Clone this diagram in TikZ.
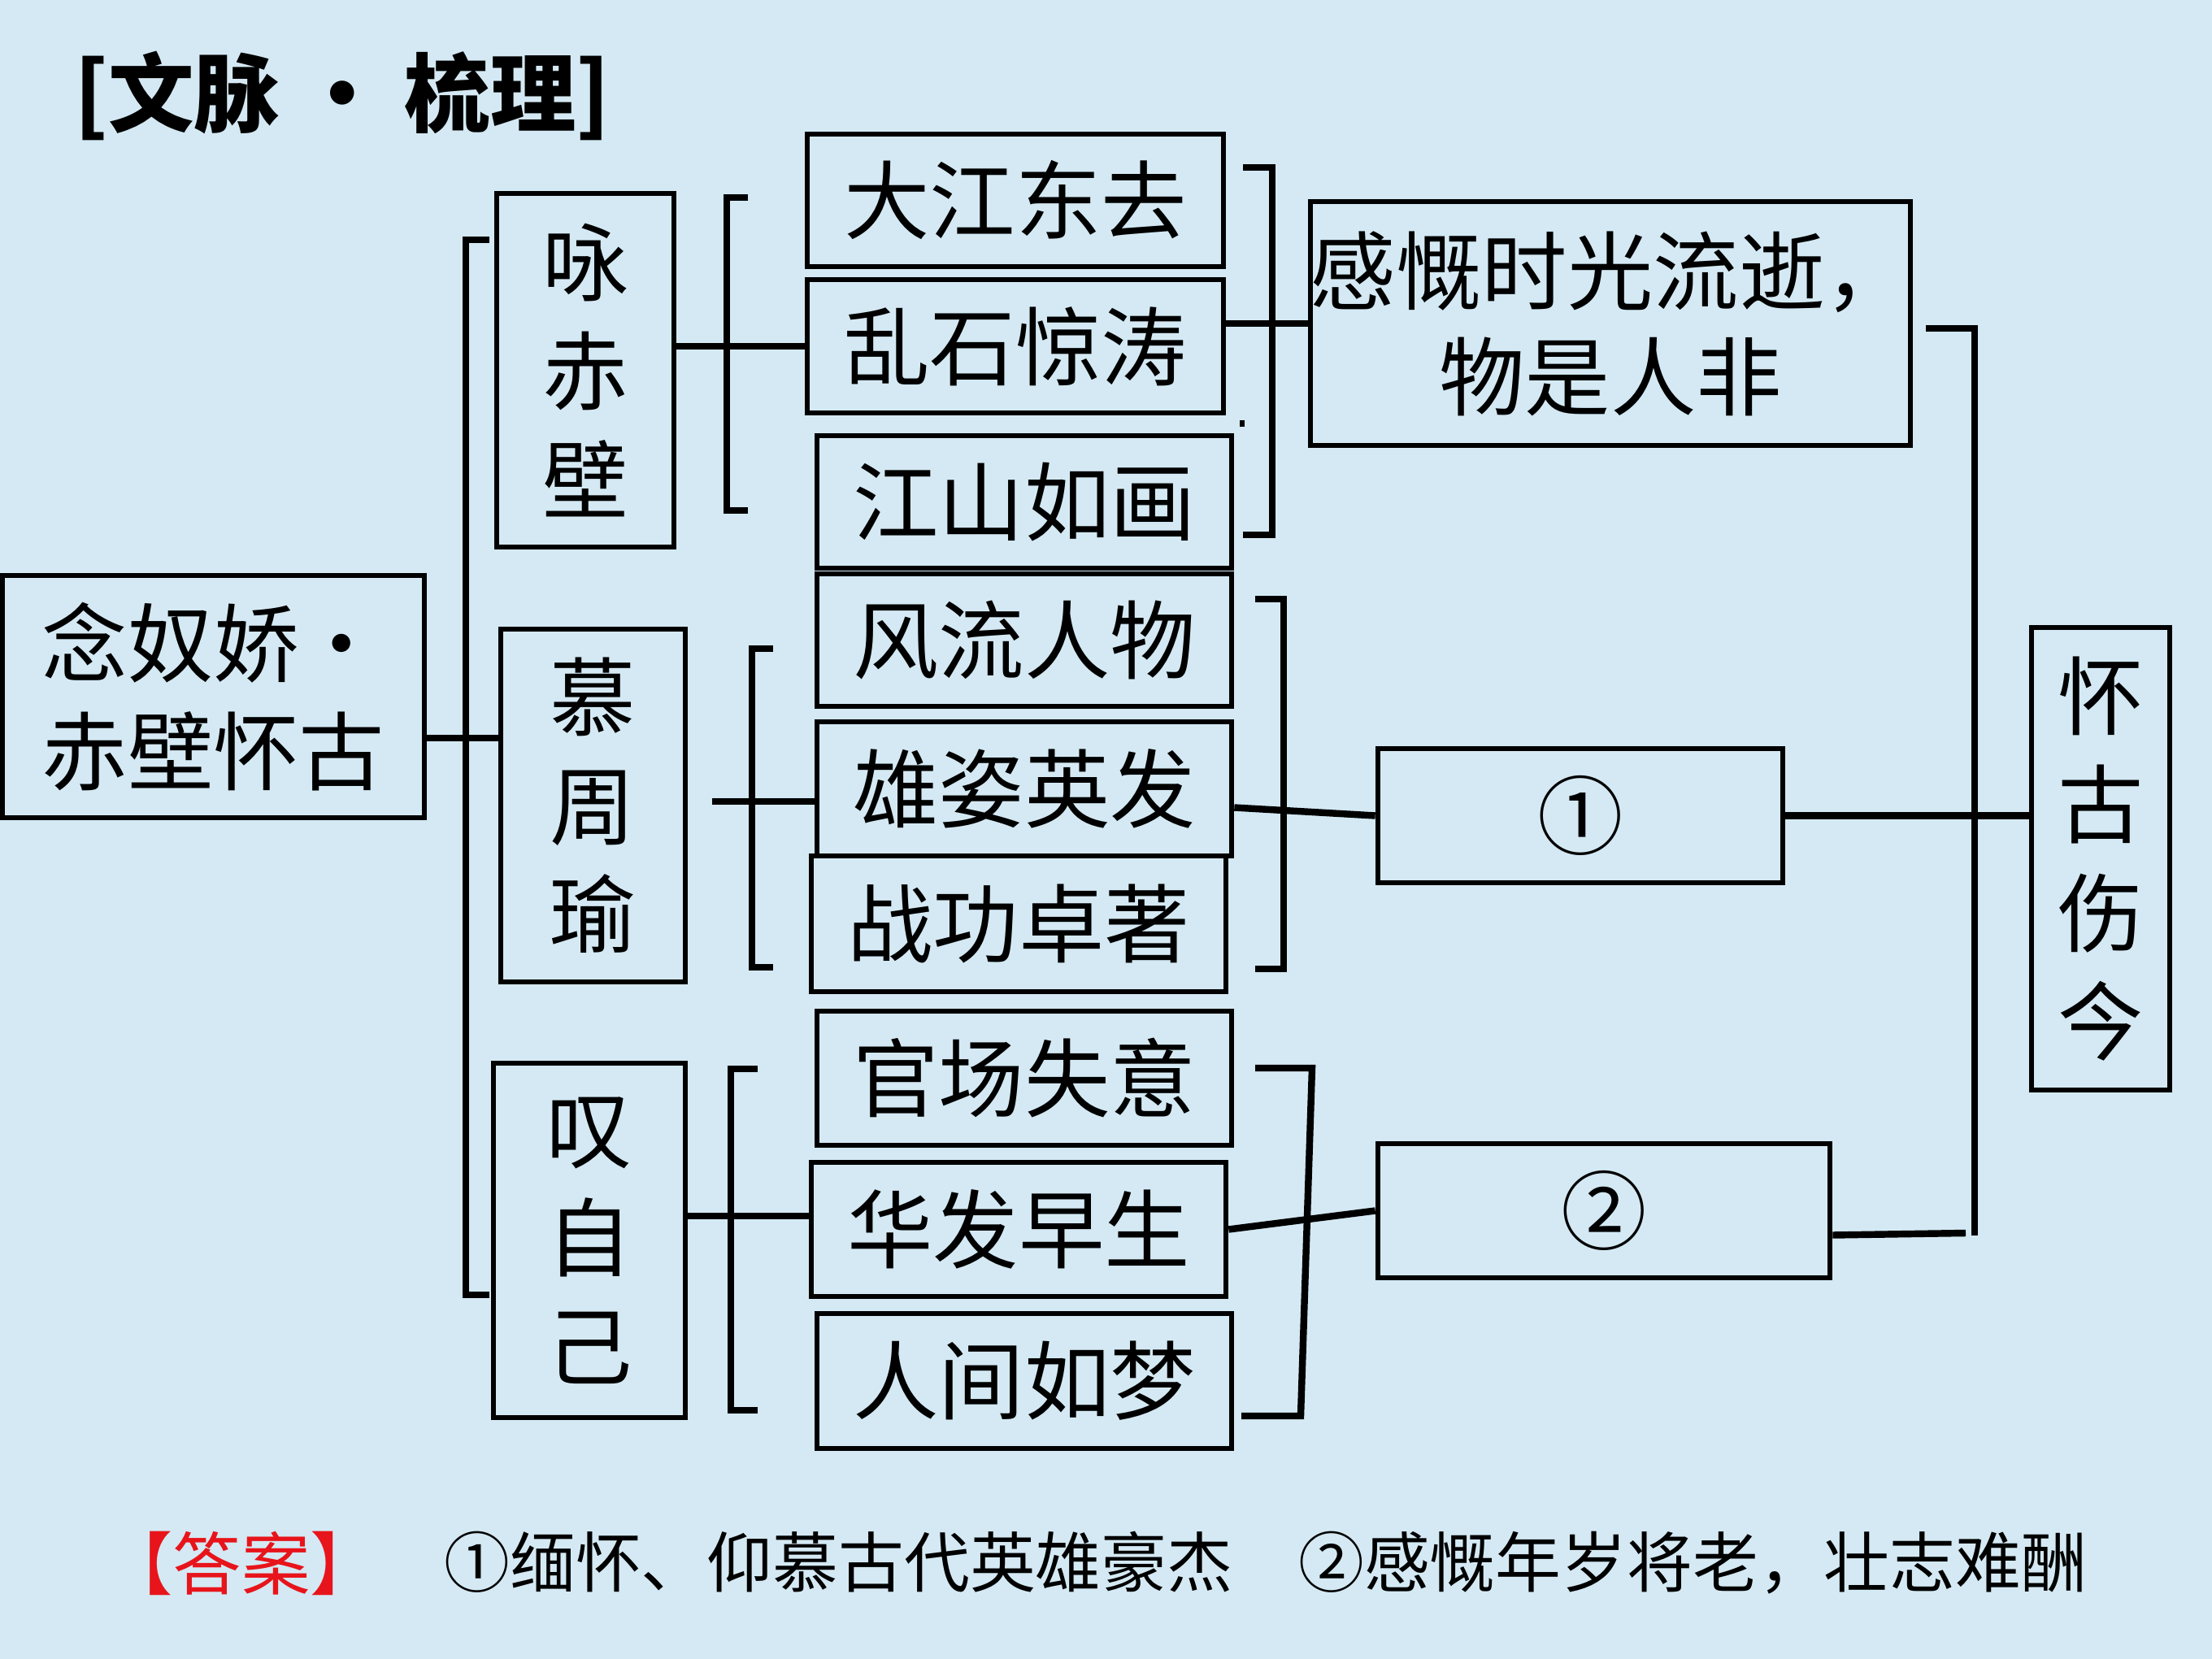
\documentclass[tikz,border=0pt]{standalone}
\usepackage{fontspec}
\setmainfont{Noto Sans CJK SC}
\usetikzlibrary{calc}

\definecolor{paper}{HTML}{D4E9F3}
\definecolor{answerred}{HTML}{E8141B}

\tikzstyle{box} = [rectangle, draw=black, line width=1.9pt, inner sep=0pt, text centered, font=\fontsize{30}{38}\selectfont]
\tikzstyle{phrase} = [box, minimum width=5.1cm, minimum height=1.64cm]
\tikzstyle{column} = [box, align=center]
\tikzstyle{link} = [line width=2.4pt]

\begin{document}
\begin{tikzpicture}[x=1cm,y=-1cm]
\fill[paper] (0,0) rectangle (27.21,20.41);
\useasboundingbox (0,0) rectangle (27.21,20.41);

\node (title) at (4.21,1.18) [font=\fontsize{30}{30}\selectfont\bfseries] {[文脉 • 梳理]};

\node (root) [box, minimum width=5.19cm, minimum height=2.98cm, align=left] at (2.625,8.57) {念奴娇·\\赤壁怀古};

\node (yong) [column, minimum width=2.18cm, minimum height=4.35cm] at (7.20,4.555) {咏\\赤\\壁};
\node (mu) [column, minimum width=2.27cm, minimum height=4.34cm] at (7.295,9.91) {慕\\周\\瑜};
\node (tan) [column, minimum width=2.36cm, minimum height=4.36cm] at (7.25,15.26) {叹\\自\\己};

\node (b1) [phrase, minimum width=5.12cm, minimum height=1.63cm] at (12.49,2.465) {大江东去};
\node (b2) [phrase, minimum width=5.12cm] at (12.49,4.26) {乱石惊涛};
\node (b3) [phrase, minimum height=1.63cm] at (12.60,6.175) {江山如画};
\node (b4) [phrase, minimum height=1.63cm] at (12.60,7.875) {风流人物};
\node (b5) [phrase, minimum height=1.65cm] at (12.60,9.705) {雄姿英发};
\node (b6) [phrase, minimum height=1.67cm] at (12.53,11.365) {战功卓著};
\node (b7) [phrase, minimum height=1.65cm] at (12.60,13.265) {官场失意};
\node (b8) [phrase, minimum height=1.65cm] at (12.53,15.125) {华发早生};
\node (b9) [phrase, minimum height=1.66cm] at (12.60,16.99) {人间如梦};

\node (gan) [box, minimum width=7.38cm, minimum height=3.00cm, align=center, font=\fontsize{30}{37}\selectfont] at (19.81,3.98) {感慨时光流逝，\\物是人非};
\node (ans1) [box, minimum width=4.98cm, minimum height=1.65cm] at (19.44,10.035) {①};
\node (ans2) [box, minimum width=5.56cm, minimum height=1.65cm] at (19.73,14.895) {②};

\node (huai) [column, minimum width=1.70cm, minimum height=5.69cm] at (25.84,10.565) {怀\\古\\伤\\今};

% root to the three parts
\coordinate (rootJ) at (5.73,9.08);
\draw[link] (root.east |- rootJ) -- (mu.west |- rootJ);
\draw[link] (6.02,2.95) -| (5.73,15.93) -- (6.02,15.93);

% left brackets
\draw[link] (9.20,2.43) -| (8.94,6.28) -- (9.20,6.28);
\draw[link] (yong.east |- b2.west) -- (b2.west);
\draw[link] (9.51,7.98) -| (9.25,11.90) -- (9.51,11.90);
\draw[link] (mu.east) ++(0.3,-0.05) -- (b5.west |- 0,9.86);
\coordinate (tanJ) at (8.52,14.96);
\draw[link] (9.32,13.15) -| (8.99,17.35) -- (9.32,17.35);
\draw[link] (tan.east |- tanJ) -- (b8.west |- tanJ);

% right brackets
\draw[link] (15.29,2.06) -| (15.65,6.58) -- (15.29,6.58);
\draw[link] (15.25,5.21) -- (15.31,5.21);
\draw[link] (b2.east |- gan.west) -- (gan.west);
\draw[link] (15.44,7.37) -| (15.79,11.92) -- (15.44,11.92);
\draw[link] (b5.east) ++(0,0.23) -- (ans1.west);
\draw[link] (15.44,13.14) -- (16.14,13.14) -- (16.00,17.42) -- (15.27,17.42);
\draw[link] (b8.east) -- (ans2.west);

% to the theme
\draw[link] (23.69,4.04) -| (24.29,15.20);
\draw[link] (ans2.east) ++(0,0.30) -- (24.18,15.17);
\draw[link] (ans1.east) -- (huai.west |- ans1.east);

% answer
\node (ansLabel) [text=answerred, font=\fontsize{24}{24}\selectfont] at (2.97,19.23) {【答案】};
\node (ansText) [anchor=west, font=\fontsize{23}{23}\selectfont] at (5.34,19.23) {①缅怀、仰慕古代英雄豪杰\quad ②感慨年岁将老，壮志难酬};
\end{tikzpicture}
\end{document}
